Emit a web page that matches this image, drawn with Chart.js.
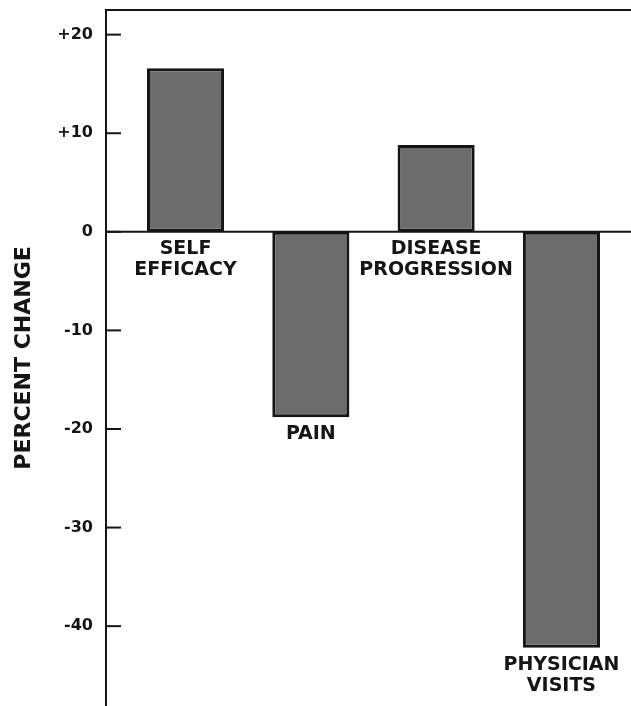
<!DOCTYPE html>
<html>
<head>
<meta charset="utf-8">
<script src="https://cdn.jsdelivr.net/npm/chart.js@4/dist/chart.umd.min.js"></script>
<style>
  html, body { margin: 0; padding: 0; background: #fff; }
  #wrap { width: 631px; height: 706px; }
</style>
</head>
<body>
<div id="wrap"><canvas id="chart" width="631" height="706"></canvas></div>
<script>
// categories (multi-line labels drawn under each bar)
const categories = [
    ["SELF", "EFFICACY"],
    ["PAIN"],
    ["DISEASE", "PROGRESSION"],
    ["PHYSICIAN", "VISITS"],
];
const percentChange = [16.6, -18.8, 8.8, -42.2];
const tickValues = [20, 10, 0, -10, -20, -30, -40];
const tickLabels = ["+20", "+10", "0", "-10", "-20", "-30", "-40"];

const INK = "#151515";
const FONT = "'DejaVu Sans', sans-serif";

// tick marks inside the axis, zero line, top frame line, bar labels
const decorPlugin = {
    id: "decor",
    afterDatasetsDraw(chart) {
        const ctx = chart.ctx;
        const area = chart.chartArea;
        const y = chart.scales.y;
        ctx.save();
        ctx.strokeStyle = INK;
        ctx.lineWidth = 2;
        // top frame
        ctx.beginPath();
        ctx.moveTo(area.left, area.top);
        ctx.lineTo(area.right, area.top);
        ctx.stroke();
        // zero line
        const y0 = y.getPixelForValue(0);
        ctx.beginPath();
        ctx.moveTo(area.left, y0);
        ctx.lineTo(area.right, y0);
        ctx.stroke();
        // tick marks
        tickValues.forEach((v) => {
            const py = y.getPixelForValue(v);
            ctx.beginPath();
            ctx.moveTo(area.left, py);
            ctx.lineTo(area.left + 15, py);
            ctx.stroke();
        });
        // labels under each bar's lower end
        ctx.fillStyle = INK;
        ctx.font = "bold 19px " + FONT;
        ctx.textAlign = "center";
        ctx.textBaseline = "middle";
        const meta = chart.getDatasetMeta(0);
        meta.data.forEach((bar, i) => {
            const low = Math.max(bar.y, bar.base);
            categories[i].forEach((line, j) => {
                ctx.fillText(line, bar.x, low + 17 + j * 21);
            });
        });
        ctx.restore();
    },
};

new Chart(document.getElementById("chart"), {
    type: "bar",
    data: {
        datasets: [
            {
                data: percentChange.map((v, i) => ({ x: i + 1, y: v })),
                backgroundColor: "#6c6c6c",
                borderColor: INK,
                borderWidth: 3,
                borderSkipped: false,
                categoryPercentage: 1,
                barPercentage: 0.615,
            },
        ],
    },
    options: {
        responsive: false,
        animation: false,
        layout: { padding: { top: 10, right: 0, bottom: 0, left: 0 } },
        plugins: { legend: { display: false }, tooltip: { enabled: false } },
        scales: {
            x: {
                type: "linear",
                min: 0.3655,
                max: 4.555,
                offset: false,
                display: false,
                afterBuildTicks(scale) {
                    scale.ticks = categories.map((c, i) => ({ value: i + 1 }));
                },
            },
            y: {
                min: -48.1,
                max: 22.5,
                afterBuildTicks(scale) {
                    scale.ticks = tickValues.map((v) => ({ value: v }));
                },
                afterFit(scale) {
                    scale.width = 106;
                    scale.paddingTop = 0;
                    scale.paddingBottom = 0;
                },
                grid: { display: false, drawTicks: false },
                border: { display: true, color: INK, width: 2 },
                ticks: {
                    padding: 13,
                    color: INK,
                    font: { family: FONT, size: 16, weight: "bold" },
                    callback: (v) => tickLabels[tickValues.indexOf(v)],
                },
                title: {
                    display: true,
                    text: "PERCENT CHANGE",
                    color: INK,
                    padding: { top: 11, bottom: 0 },
                    font: { family: FONT, size: 22, weight: "bold" },
                },
            },
        },
    },
    plugins: [decorPlugin],
});
</script>
</body>
</html>
